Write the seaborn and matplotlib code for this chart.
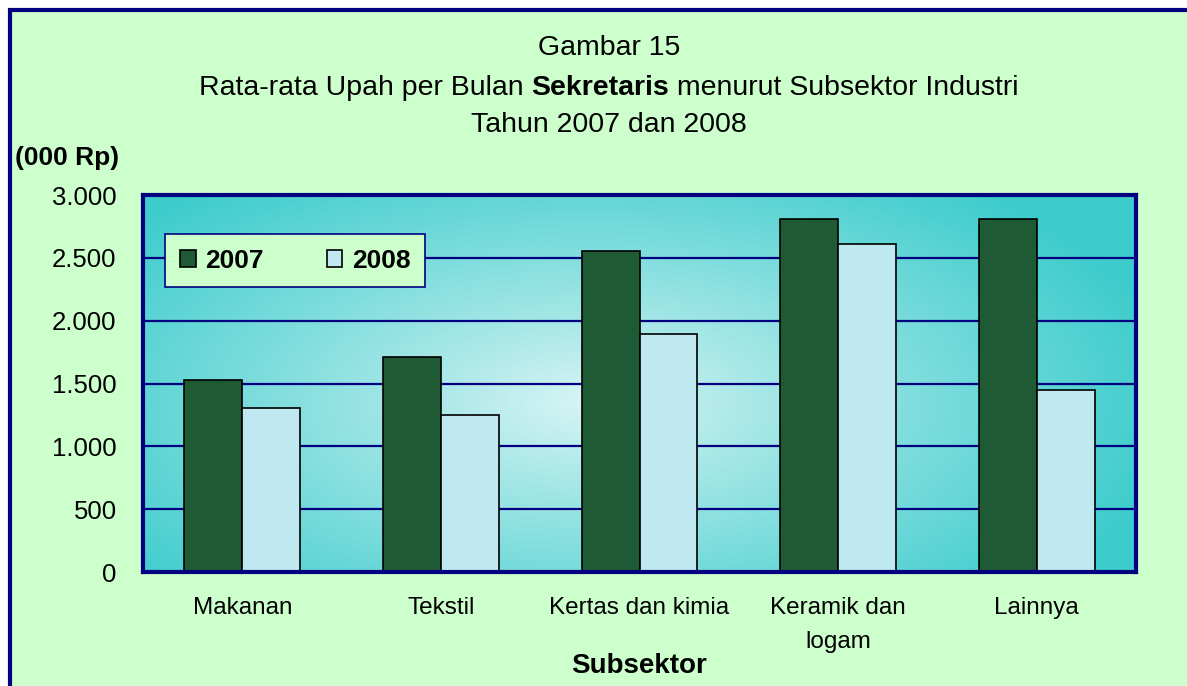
import matplotlib
matplotlib.use("Agg")
import matplotlib.pyplot as plt
import seaborn as sns
import pandas as pd
import numpy as np
from matplotlib.patches import Rectangle, Patch

# data (000 Rp)
subsektor = ["Makanan", "Tekstil", "Kertas dan kimia", "Keramik dan\nlogam", "Lainnya"]
upah_2007 = [1530, 1710, 2555, 2810, 2810]
upah_2008 = [1305, 1250, 1890, 2610, 1450]
years = ["2007", "2008"]
yticks = [0, 500, 1000, 1500, 2000, 2500, 3000]
ytick_labels = ["0", "500", "1.000", "1.500", "2.000", "2.500", "3.000"]

NAVY = "#000080"
BG = "#ccffcc"
colors = {"2007": "#1e5b34", "2008": "#bfe8f0"}

df = pd.DataFrame({
    "Subsektor": subsektor * 2,
    "Upah": upah_2007 + upah_2008,
    "Tahun": [years[0]] * len(subsektor) + [years[1]] * len(subsektor),
})

sns.set_style("white")
plt.rcParams["font.family"] = ["Liberation Sans", "DejaVu Sans"]
plt.rcParams["text.color"] = "black"
plt.rcParams["xtick.color"] = "black"
plt.rcParams["ytick.color"] = "black"
plt.rcParams["axes.labelcolor"] = "black"

fig = plt.figure(figsize=(11.87, 6.86), dpi=100)
fig.patch.set_facecolor("white")
fig.patches.append(Rectangle((10 / 1187, -0.05), 1.1, 1 - 10 / 686 + 0.05,
                             transform=fig.transFigure, facecolor=BG,
                             edgecolor=NAVY, linewidth=3, zorder=-10))

ax = fig.add_axes([143 / 1187, 1 - 572 / 686, (1136 - 143) / 1187, (572 - 195) / 686])

# radial cyan background
gx, gy = np.meshgrid(np.linspace(0, 1, 300), np.linspace(0, 1, 200))
r = np.sqrt(((gx - 0.45) / 0.6) ** 2 + ((gy - 0.45) / 0.75) ** 2)
r = np.clip(r, 0, 1)
c0 = np.array([0.86, 0.96, 0.96])
c1 = np.array([0.24, 0.80, 0.80])
img = c0 + (c1 - c0) * r[..., None] ** 0.9
ax.imshow(img, extent=[0, 1, 0, 1], transform=ax.transAxes, aspect="auto",
          origin="lower", zorder=0)

sns.barplot(data=df, x="Subsektor", y="Upah", hue="Tahun", palette=colors,
            width=0.584, edgecolor="black", linewidth=1.2, saturation=1,
            ax=ax, zorder=3, legend=False)

ax.set_xlim(-0.5, len(subsektor) - 0.5)
ax.set_ylim(0, 3000)
ax.set_yticks(yticks)
ax.set_yticklabels(ytick_labels)
for y in yticks[1:-1]:
    ax.axhline(y, color=NAVY, linewidth=1.6, zorder=1)
for s in ax.spines.values():
    s.set_color(NAVY)
    s.set_linewidth(3)
    s.set_zorder(5)
ax.tick_params(axis="y", length=5, width=1, color="black", direction="out",
               labelsize=18.5, pad=14)
ax.tick_params(axis="x", length=0, labelsize=17.5, pad=18)
for lbl in ax.get_xticklabels():
    lbl.set_linespacing(1.7)
    lbl.set_verticalalignment("top")
ax.set_xlabel("Subsektor", fontsize=20, fontweight="bold")
ax.set_ylabel("")
ax.xaxis.set_label_coords(0.5, -0.215)

handles = [Patch(facecolor=colors[y], edgecolor="black", linewidth=1.2, label=y) for y in years]
leg = ax.legend(handles=handles, ncol=2, loc="center",
                bbox_to_anchor=((295 - 143) / 993, (572 - 260.5) / 377),
                frameon=True, fancybox=False, framealpha=1, handlelength=0.6,
                handleheight=0.6, handletextpad=0.35, columnspacing=2.4,
                borderpad=0.55, prop={"size": 19, "weight": "bold"})
leg.get_frame().set_facecolor(BG)
leg.get_frame().set_edgecolor(NAVY)
leg.get_frame().set_linewidth(1.2)
leg.set_zorder(6)

fig.text(15 / 1187, 1 - 158 / 686, "(000 Rp)", fontsize=19,
         fontweight="bold", ha="left", va="center")

# title
TS = 20.5
fig.text(609 / 1187, 1 - 48 / 686, "Gambar 15", fontsize=TS, ha="center", va="center")
fig.text(609 / 1187, 1 - 125 / 686, "Tahun 2007 dan 2008", fontsize=TS, ha="center", va="center")
parts = [("Rata-rata Upah per Bulan ", "normal"), ("Sekretaris", "bold"),
         (" menurut Subsektor Industri", "normal")]
renderer = fig.canvas.get_renderer()
texts = []
widths = []
for s, w in parts:
    t = fig.text(0, 1 - 88 / 686, s, fontsize=TS, fontweight=w, ha="left", va="center")
    texts.append(t)
    widths.append(t.get_window_extent(renderer).width)
x = 609 - sum(widths) / 2
for t, w in zip(texts, widths):
    t.set_x(x / 1187)
    x += w

fig.savefig("out.png", dpi=100)
